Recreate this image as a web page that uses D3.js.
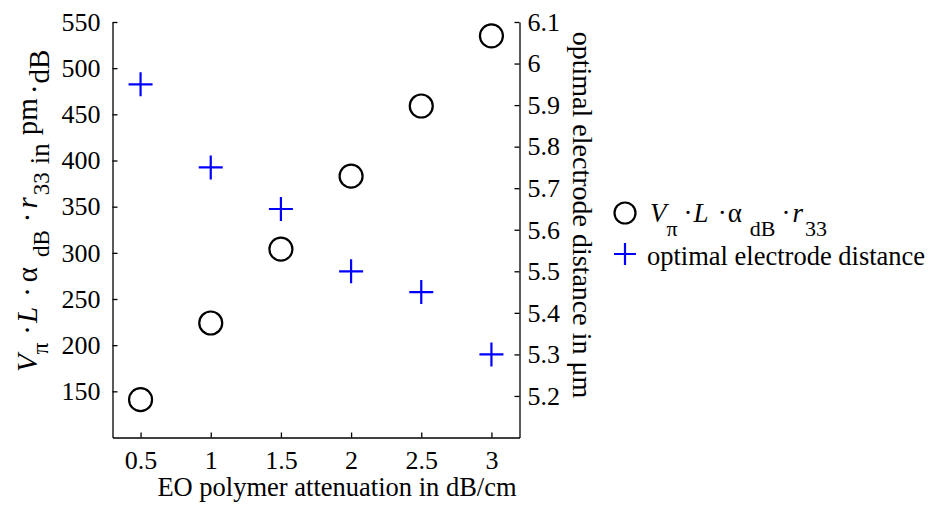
<!DOCTYPE html>
<html>
<head>
<meta charset="utf-8">
<script src="https://cdn.jsdelivr.net/npm/d3@7"></script>
<style>
body{margin:0;background:#fff;}
text{font-family:"Liberation Serif","Times New Roman",serif;fill:#000;}
</style>
</head>
<body>
<svg id="chart" width="928" height="509"></svg>
<script>
const attenuation = [0.5, 1, 1.5, 2, 2.5, 3];
const vpiL = [141, 224, 304, 383, 459, 535];
const electrodeDist = [5.95, 5.75, 5.65, 5.5, 5.45, 5.3];
const xTicks = [0.5, 1, 1.5, 2, 2.5, 3];
const yLeftTicks = [150, 200, 250, 300, 350, 400, 450, 500, 550];
const yRightTicks = [5.2, 5.3, 5.4, 5.5, 5.6, 5.7, 5.8, 5.9, 6, 6.1];

const svg = d3.select("#chart");
const L = 112.5, R = 519.5, T = 22, B = 437.5;
const x = d3.scaleLinear().domain([0.3, 3.2]).range([L, R]);
const yL = d3.scaleLinear().domain([100, 550]).range([B, T]);
const yR = d3.scaleLinear().domain([5.1, 6.1]).range([B, T]);

const tickFont = 26;

// axes
const gx = svg.append("g").attr("transform", `translate(0,${B})`)
  .call(d3.axisBottom(x).tickValues(xTicks).tickSizeInner(-5).tickSizeOuter(0).tickPadding(14).tickFormat(d3.format("")));
const gl = svg.append("g").attr("transform", `translate(${L},0)`)
  .call(d3.axisLeft(yL).tickValues(yLeftTicks).tickSizeInner(-5).tickSizeOuter(0).tickPadding(12));
const gr = svg.append("g").attr("transform", `translate(${R},0)`)
  .call(d3.axisRight(yR).tickValues(yRightTicks).tickSizeInner(-5).tickSizeOuter(0).tickPadding(8).tickFormat(d3.format("")));
[gx, gl, gr].forEach(g => {
  g.select(".domain").attr("stroke", "#000").attr("stroke-width", 1.3);
  g.selectAll(".tick line").attr("stroke", "#000").attr("stroke-width", 1.3);
  g.selectAll(".tick text").attr("font-family", "Liberation Serif").attr("font-size", tickFont).attr("fill", "#000");
});
gx.selectAll(".tick text").attr("dy", "0.66em");

// circles
svg.append("g").selectAll("circle").data(attenuation).join("circle")
  .attr("cx", (d) => x(d)).attr("cy", (d, i) => yL(vpiL[i])).attr("r", 11.5)
  .attr("fill", "none").attr("stroke", "#000").attr("stroke-width", 2.2);

// pluses
const plus = (s) => `M${-s},0H${s}M0,${-s}V${s}`;
svg.append("g").selectAll("path").data(attenuation).join("path")
  .attr("transform", (d, i) => `translate(${x(d)},${yR(electrodeDist[i])})`)
  .attr("d", plus(12)).attr("fill", "none").attr("stroke", "#0000ff").attr("stroke-width", 2.2);

// x label
svg.append("text").attr("x", 337).attr("y", 496).attr("text-anchor", "middle")
  .attr("font-size", 26.5).text("EO polymer attenuation in dB/cm");

// helper for TeX-like labels: text, level (px down from baseline), size, italic, dx gap
function addMath(t, parts) {
  let cur = 0;
  parts.forEach(p => {
    const lvl = p.l || 0;
    const ts = t.append("tspan").text(p.t);
    if (p.i) ts.attr("font-style", "italic");
    if (lvl !== cur) ts.attr("dy", lvl - cur);
    if (p.dx) ts.attr("dx", p.dx);
    if (p.fs) ts.attr("font-size", p.fs);
    cur = lvl;
  });
}

// left y label
const ly = svg.append("text").attr("transform", "translate(37,372) rotate(-90)")
  .attr("text-anchor", "start").attr("font-size", 29);
addMath(ly, [
  {t: "V", i: true},
  {t: "π", l: 11, fs: 23},
  {t: "·", l: 0, dx: 8},
  {t: "L", i: true, dx: 2},
  {t: "·", dx: 10},
  {t: "α", dx: 5},
  {t: "dB", l: 12, fs: 23, dx: 10},
  {t: "·", l: 0, dx: 8},
  {t: "r", i: true, dx: 4},
  {t: "33", l: 12, fs: 23, dx: 2},
  {t: "in", l: 12, fs: 27, dx: 8},
  {t: "pm", dx: 8},
  {t: "·", l: 7, dx: 4},
  {t: "dB", l: 12, dx: 1}
]);

// right y label
svg.append("text").attr("transform", "translate(573,215) rotate(90)")
  .attr("text-anchor", "middle").attr("font-size", 28)
  .text("optimal electrode distance in μm");

// legend
svg.append("circle").attr("cx", 625).attr("cy", 213).attr("r", 10.5)
  .attr("fill", "none").attr("stroke", "#000").attr("stroke-width", 2.2);
svg.append("path").attr("transform", "translate(625,254)").attr("d", plus(11))
  .attr("fill", "none").attr("stroke", "#0000ff").attr("stroke-width", 2.2);
const lt = svg.append("text").attr("x", 650).attr("y", 222).attr("font-size", 27);
addMath(lt, [
  {t: "V", i: true},
  {t: "π", l: 14, fs: 22},
  {t: "·", l: 0, dx: 6},
  {t: "L", i: true, dx: 1},
  {t: "·", dx: 9},
  {t: "α", dx: 1},
  {t: "dB", l: 14, fs: 22, dx: 8},
  {t: "·", l: 0, dx: 6},
  {t: "r", i: true, dx: 2},
  {t: "33", l: 14, fs: 22, dx: 2}
]);
svg.append("text").attr("x", 647).attr("y", 265).attr("font-size", 26.5)
  .text("optimal electrode distance");
</script>
</body>
</html>
